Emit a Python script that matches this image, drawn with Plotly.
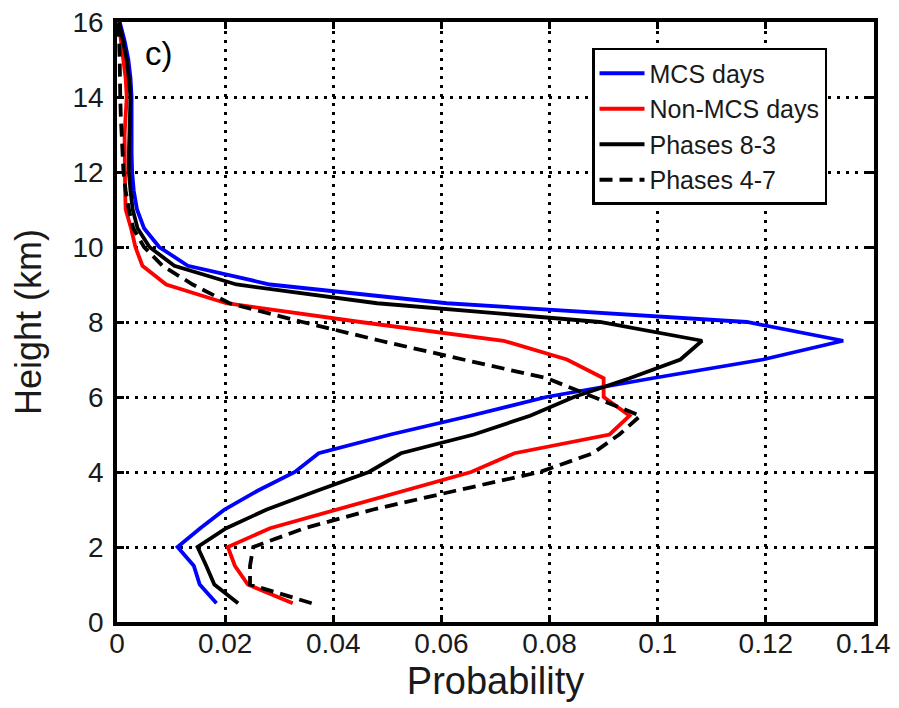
import plotly.graph_objects as go

heights = [0.5, 1.0, 1.5, 2.0, 2.5, 3.0, 3.5, 4.0, 4.5, 5.0, 5.5, 6.0, 6.5, 7.0, 7.5, 8.0,
           8.5, 9.0, 9.5, 10.0, 10.5, 11.0, 11.5, 12.0, 12.5, 13.0, 13.5, 14.0, 14.5, 15.0, 15.5, 16.0]

mcs_days = [0.0184, 0.0153, 0.0142, 0.0112, 0.0154, 0.0199, 0.0260, 0.0329, 0.0373, 0.0506,
            0.0654, 0.0794, 0.0990, 0.1195, 0.1343, 0.1165, 0.0610, 0.0283, 0.0131, 0.0078,
            0.0050, 0.0037, 0.0031, 0.0028, 0.0027, 0.0027, 0.0027, 0.0027, 0.0025, 0.0021,
            0.0014, 0.0005]

non_mcs_days = [0.0325, 0.0242, 0.0218, 0.0205, 0.0283, 0.0408, 0.0532, 0.0655, 0.0735, 0.0911,
                0.0948, 0.0900, 0.0900, 0.0832, 0.0715, 0.0450, 0.0202, 0.0091, 0.0047, 0.0034,
                0.0026, 0.0016, 0.0015, 0.0015, 0.0014, 0.0014, 0.0016, 0.0018, 0.0016, 0.0012,
                0.0008, 0.0003]

phases_8_3 = [0.0224, 0.0180, 0.0165, 0.0149, 0.0202, 0.0277, 0.0370, 0.0466, 0.0525, 0.0660,
              0.0764, 0.0845, 0.0948, 0.1042, 0.1082, 0.0893, 0.0481, 0.0221, 0.0106, 0.0060,
              0.0038, 0.0029, 0.0025, 0.0022, 0.0022, 0.0023, 0.0024, 0.0025, 0.0022, 0.0018,
              0.0011, 0.0004]

phases_4_7 = [0.0360, 0.0246, 0.0246, 0.0252, 0.0346, 0.0474, 0.0626, 0.0782, 0.0880, 0.0929,
              0.0968, 0.0880, 0.0795, 0.0640, 0.0487, 0.0343, 0.0208, 0.0140, 0.0084, 0.0050,
              0.0030, 0.0022, 0.0016, 0.0012, 0.0010, 0.0008, 0.0007, 0.0006, 0.0006, 0.0005,
              0.0004, 0.0002]

series_names = ["MCS days", "Non-MCS days", "Phases 8-3", "Phases 4-7"]
series_values = [mcs_days, non_mcs_days, phases_8_3, phases_4_7]
series_colors = ["#0000ff", "#ff0000", "#000000", "#000000"]
series_dash = ["solid", "solid", "solid", "13px,7px"]

x_tickvals = [0, 0.02, 0.04, 0.06, 0.08, 0.1, 0.12, 0.14]
x_ticktext = ["0", "0.02", "0.04", "0.06", "0.08", "0.1", "0.12", "0.14"]
y_tickvals = [0, 2, 4, 6, 8, 10, 12, 14, 16]
y_ticktext = ["0", "2", "4", "6", "8", "10", "12", "14", "16"]

FONT = "Liberation Sans, Arial, Helvetica, sans-serif"
TXT = "#1a1a1a"

fig = go.Figure()
for name, vals, col, dash in zip(series_names, series_values, series_colors, series_dash):
    fig.add_trace(go.Scatter(x=vals, y=heights, mode="lines", name=name,
                             line=dict(color=col, width=3.8, dash=dash)))

axis_common = dict(
    showline=True, linecolor="black", linewidth=3.5, mirror="ticks",
    ticks="inside", ticklen=7, tickwidth=2.5, tickcolor="black",
    showgrid=True, gridcolor="black", gridwidth=2.8, griddash="2.8px,6.2px",
    zeroline=False, tickfont=dict(family=FONT, size=28, color=TXT),
    automargin=False, ticklabeloverflow="allow",
)

# last x tick label is drawn as an annotation so it stays inside the page edge
fig.update_xaxes(range=[0, 0.14], tickvals=x_tickvals,
                 ticktext=x_ticktext[:-1] + [""],
                 title=dict(text="Probability", font=dict(family=FONT, size=38, color=TXT), standoff=10),
                 ticklabelstandoff=-6, **axis_common)
fig.update_yaxes(range=[0, 16], tickvals=y_tickvals, ticktext=y_ticktext,
                 title=dict(text="Height (km)", font=dict(family=FONT, size=36, color=TXT), standoff=26),
                 ticklabelstandoff=4, **axis_common)

fig.add_annotation(text=x_ticktext[-1], xref="x", yref="paper", x=x_tickvals[-1], y=0,
                   xanchor="center", yanchor="middle", xshift=-11, yshift=-21,
                   showarrow=False, font=dict(family=FONT, size=28, color=TXT))

fig.add_annotation(text="c)", xref="paper", yref="paper", x=0.0555, y=0.948,
                   xanchor="center", yanchor="middle",
                   showarrow=False, font=dict(family=FONT, size=33, color="black"))

fig.update_layout(
    width=891, height=700,
    margin=dict(l=109, r=25, t=14, b=86, autoexpand=False),
    plot_bgcolor="white", paper_bgcolor="white",
    legend=dict(x=0.6275, y=0.9567, xanchor="left", yanchor="top",
                bgcolor="white", bordercolor="black", borderwidth=2.5,
                font=dict(family=FONT, size=25, color=TXT),
                tracegroupgap=0, itemwidth=45),
    showlegend=True,
)

fig.write_html("out.html")
